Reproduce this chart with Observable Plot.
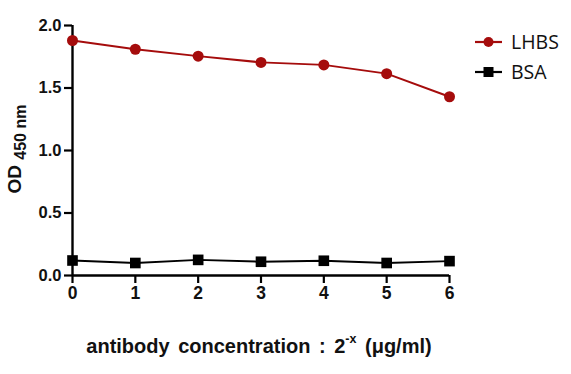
<!DOCTYPE html>
<html><head><meta charset="utf-8">
<script src="https://cdn.jsdelivr.net/npm/d3@7"></script>
<script src="https://cdn.jsdelivr.net/npm/@observablehq/plot@0.6"></script>
<style>
body{margin:0;background:#fff}
#chart{position:relative;width:571px;height:374px}
#chart svg g[aria-label='y-axis tick label'], #chart svg g[aria-label='y-axis tick label'] text{font-size:16.5px !important;font-weight:bold !important;font-family:"Liberation Sans",Arial,sans-serif !important}
#chart svg g[aria-label='x-axis tick label'], #chart svg g[aria-label='x-axis tick label'] text{font-size:17.5px !important;font-weight:bold !important;font-family:"Liberation Sans",Arial,sans-serif !important}
</style>
</head><body><div id="chart"></div>
<script>
const dilution = [0, 1, 2, 3, 4, 5, 6];
const lhbs = [1.88, 1.81, 1.755, 1.705, 1.685, 1.615, 1.43];
const bsa = [0.12, 0.10, 0.125, 0.11, 0.118, 0.10, 0.115];
const yTicks = [0, 0.5, 1.0, 1.5, 2.0];
const xTicks = [0, 1, 2, 3, 4, 5, 6];
const seriesNames = ["LHBS", "BSA"];
const seriesColors = ["#a50c0c", "#000000"];
const seriesSymbols = ["circle", "square"];

const rows = [];
dilution.forEach((x, i) => {
  rows.push({x, y: lhbs[i], s: seriesNames[0]});
  rows.push({x, y: bsa[i], s: seriesNames[1]});
});

const plot = Plot.plot({
  width: 571,
  height: 374,
  marginLeft: 72,
  marginRight: 122,
  marginTop: 25,
  marginBottom: 99,
  style: {fontFamily: "Liberation Sans, Arial, sans-serif", fontSize: "16px", fontWeight: "bold", background: "#fff", color: "#111"},
  x: {domain: [0, 6]},
  y: {domain: [0, 2]},
  color: {domain: seriesNames, range: seriesColors},
  symbol: {domain: seriesNames, range: seriesSymbols},
  marks: [
    Plot.axisY({ticks: yTicks, tickSize: 8, tickPadding: 3, tickFormat: d => d.toFixed(1), label: null}),
    Plot.axisX({ticks: xTicks, tickSize: 8, tickPadding: 3, tickFormat: d => String(d), label: null}),
    Plot.ruleX([0], {stroke: "#000", strokeWidth: 2.4}),
    Plot.ruleY([0], {stroke: "#000", strokeWidth: 2.4}),
    Plot.line(rows, {x: "x", y: "y", z: "s", stroke: "s", strokeWidth: 2}),
    Plot.dot(rows.filter(d => d.s === "LHBS"), {x: "x", y: "y", fill: "s", r: 5.5, symbol: "s"}),
    Plot.dot(rows.filter(d => d.s === "BSA"), {x: "x", y: "y", fill: "s", r: 6, symbol: "s"})
  ]
});
document.getElementById("chart").appendChild(plot);

const svg = d3.select(plot);
svg.selectAll("g[aria-label='y-axis tick'], g[aria-label='x-axis tick']")
  .attr("stroke-width", 2.2).attr("stroke", "#000");

// Y axis label
const yl = svg.append("text")
  .attr("transform", "translate(21,149) rotate(-90)")
  .attr("text-anchor", "middle")
  .attr("font-family", "Liberation Sans, Arial, sans-serif")
  .attr("font-weight", "bold")
  .attr("fill", "#111");
yl.append("tspan").attr("font-size", 19).text("OD ");
yl.append("tspan").attr("font-size", 16).attr("dy", 5).text("450 nm");

// X axis label
const xl = svg.append("text")
  .attr("x", 259).attr("y", 353)
  .attr("text-anchor", "middle")
  .attr("font-family", "Liberation Sans, Arial, sans-serif")
  .attr("font-size", 20)
  .attr("font-weight", "bold")
  .attr("word-spacing", 3)
  .attr("fill", "#111");
xl.append("tspan").text("antibody concentration : 2");
xl.append("tspan").attr("font-size", 12.5).attr("dy", -10).text("-x");
xl.append("tspan").attr("dy", 10).text(" (\u03bcg/ml)");

// Legend
const leg = svg.append("g");
seriesNames.forEach((name, i) => {
  const y = 42 + i * 30;
  const g = leg.append("g");
  g.append("line").attr("x1", 475).attr("x2", 502).attr("y1", y).attr("y2", y)
    .attr("stroke", seriesColors[i]).attr("stroke-width", 2.2);
  if (i === 0) g.append("circle").attr("cx", 488.5).attr("cy", y).attr("r", 5).attr("fill", seriesColors[i]);
  else g.append("rect").attr("x", 483.5).attr("y", y - 5).attr("width", 10).attr("height", 10).attr("fill", seriesColors[i]);
  g.append("text").attr("x", 511).attr("y", y).attr("dy", "0.36em")
    .attr("text-anchor", "start")
    .attr("font-family", "Open Sans, Noto Sans, sans-serif").attr("font-size", 19.5)
    .attr("font-weight", "normal")
    .attr("fill", "#111").text(name);
});
</script>
</body></html>
